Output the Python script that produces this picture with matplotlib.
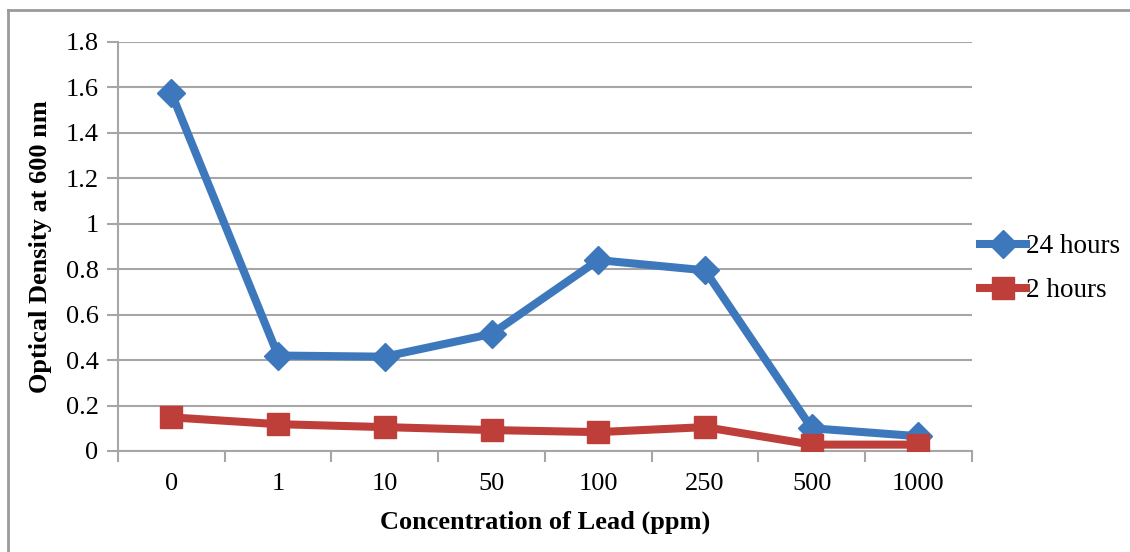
import matplotlib
matplotlib.use("Agg")
import matplotlib.pyplot as plt
from matplotlib.lines import Line2D

# 数据
concentrations = ["0", "1", "10", "50", "100", "250", "500", "1000"]
od_24h = [1.575, 0.42, 0.415, 0.515, 0.84, 0.795, 0.10, 0.065]
od_2h = [0.148, 0.118, 0.105, 0.092, 0.083, 0.105, 0.028, 0.028]
y_ticks = [0, 0.2, 0.4, 0.6, 0.8, 1, 1.2, 1.4, 1.6, 1.8]
y_tick_labels = ["0", "0.2", "0.4", "0.6", "0.8", "1", "1.2", "1.4", "1.6", "1.8"]

plt.rcParams["font.family"] = ["Liberation Serif", "DejaVu Serif"]
grid_color = "#a6a6a6"
blue = "#3e78bc"
red = "#be3e3a"

fig = plt.figure(figsize=(11.3, 5.52), dpi=100)
ax = fig.add_axes([0.1044, 0.183, 0.7556, 0.741])

x = list(range(len(concentrations)))
ax.plot(x, od_24h, color=blue, lw=5.8, marker="D", markersize=14,
        label="24 hours", zorder=3)
ax.plot(x, od_2h, color=red, lw=5.8, marker="s", markersize=16,
        label="2 hours", zorder=4)

ax.set_xlim(-0.5, len(concentrations) - 0.5)
ax.set_ylim(0, 1.8)
ax.set_yticks(y_ticks)
ax.set_yticklabels(y_tick_labels)
ax.set_xticks(x)
ax.set_xticklabels(concentrations)
ax.set_xticks([i - 0.5 for i in range(len(concentrations) + 1)], minor=True)
ax.tick_params(axis="x", which="major", length=0, pad=16, labelsize=19)
ax.tick_params(axis="x", which="minor", length=8, width=1.5, color=grid_color)
ax.tick_params(axis="y", length=8, width=1.5, color=grid_color, labelsize=19, pad=6)

ax.grid(axis="y", color=grid_color, lw=1.5)
ax.set_axisbelow(True)
for side in ["top", "right"]:
    ax.spines[side].set_visible(False)
for side in ["left", "bottom"]:
    ax.spines[side].set_color(grid_color)
    ax.spines[side].set_linewidth(1.5)

ax.set_xlabel("Concentration of Lead (ppm)", fontsize=19, fontweight="bold", labelpad=11)
ax.set_ylabel("Optical Density at 600 nm", fontsize=19, fontweight="bold", labelpad=10)

ax.legend(loc="center left", bbox_to_anchor=(1.0, 0.445), frameon=False,
          fontsize=19.5, handlelength=1.7, handletextpad=0.0, labelspacing=0.7,
          borderaxespad=0.1, borderpad=0.2)

# 外框
fig.add_artist(Line2D([8 / 1130, 1.0], [1 - 10 / 552, 1 - 10 / 552],
                      transform=fig.transFigure, color="#9a9a9a", lw=2))
fig.add_artist(Line2D([8 / 1130, 8 / 1130], [0, 1 - 10 / 552],
                      transform=fig.transFigure, color="#9a9a9a", lw=2))

fig.savefig("out.png", dpi=100)
